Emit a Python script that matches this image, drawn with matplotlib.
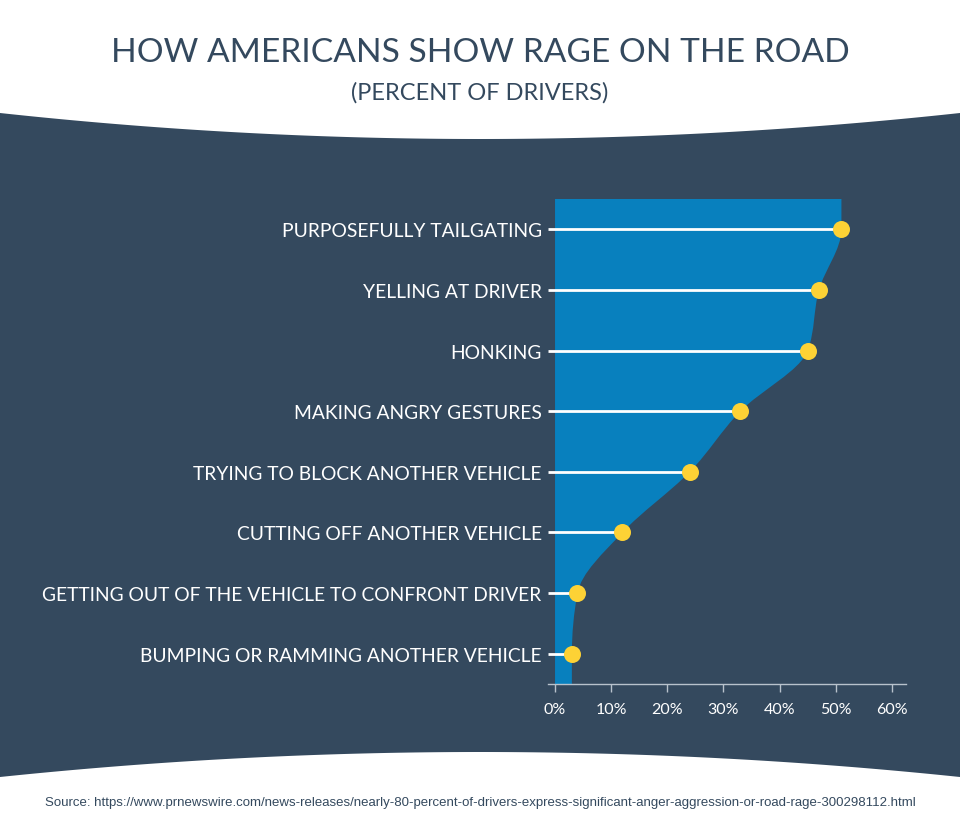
import numpy as np
import matplotlib
matplotlib.use("Agg")
import matplotlib.pyplot as plt
from matplotlib.path import Path
from matplotlib.patches import PathPatch

# ---- data ----
categories = [
    "PURPOSEFULLY TAILGATING",
    "YELLING AT DRIVER",
    "HONKING",
    "MAKING ANGRY GESTURES",
    "TRYING TO BLOCK ANOTHER VEHICLE",
    "CUTTING OFF ANOTHER VEHICLE",
    "GETTING OUT OF THE VEHICLE TO CONFRONT DRIVER",
    "BUMPING OR RAMMING ANOTHER VEHICLE",
]
values = [51, 47, 45, 33, 24, 12, 4, 3]
xticks = [0, 10, 20, 30, 40, 50, 60]
xticklabels = ["0%", "10%", "20%", "30%", "40%", "50%", "60%"]

title = "HOW AMERICANS SHOW RAGE ON THE ROAD"
subtitle = "(PERCENT OF DRIVERS)"
source = ("Source: https://www.prnewswire.com/news-releases/nearly-80-percent-of-drivers-"
          "express-significant-anger-aggression-or-road-rage-300298112.html")

NAVY = "#34495e"
BLUE = "#0880be"
YELLOW = "#fdd235"
FONT = "Lato"

W, H = 960, 837
fig = plt.figure(figsize=(W / 100, H / 100), dpi=100)
fig.patch.set_facecolor("white")

# ---- background band with curved edges ----
bg = fig.add_axes([0, 0, 1, 1])
bg.set_xlim(0, W)
bg.set_ylim(H, 0)
bg.axis("off")
xs = np.linspace(0, W, 400)
u = ((xs - W / 2) / (W / 2)) ** 2
top = 140 - 26 * u
bot = 753 + 25 * u
bg.fill_between(xs, top, bot, color=NAVY, lw=0)

bg.text(W / 2, 53, title, ha="center", va="center", fontsize=24.1,
        color=NAVY, family=FONT)
bg.text(W / 2, 93, subtitle, ha="center", va="center", fontsize=17,
        color=NAVY, family=FONT)
bg.text(W / 2, 803, source, ha="center", va="center", fontsize=9.55,
        color=NAVY, family="Liberation Sans")

# ---- main chart ----
L, R, T, B = 548, 906, 200, 685
ax = fig.add_axes([L / W, 1 - B / H, (R - L) / W, (B - T) / H])
ax.set_facecolor("none")
n = len(categories)
ax.set_xlim(-1.25, 62.5)
ax.set_ylim(n - 0.5, -0.5)

# smooth area (monotone cubic in category direction, like d3.curveMonotoneY)
py = [-0.5] + list(range(n)) + [n - 0.5]
pv = [values[0]] + values + [values[-1]]

def sgn(a):
    return (a > 0) - (a < 0)

m = len(py)
tang = [0.0] * m
for i in range(1, m - 1):
    h0 = py[i] - py[i - 1]
    h1 = py[i + 1] - py[i]
    s0 = (pv[i] - pv[i - 1]) / h0
    s1 = (pv[i + 1] - pv[i]) / h1
    p = (s0 * h1 + s1 * h0) / (h0 + h1)
    tang[i] = (sgn(s0) + sgn(s1)) * min(abs(s0), abs(s1), 0.5 * abs(p))
h = py[1] - py[0]
tang[0] = (3 * (pv[1] - pv[0]) / h - tang[1]) / 2
h = py[-1] - py[-2]
tang[-1] = (3 * (pv[-1] - pv[-2]) / h - tang[-2]) / 2

verts = [(0, py[0]), (pv[0], py[0])]
codes = [Path.MOVETO, Path.LINETO]
for i in range(m - 1):
    d = py[i + 1] - py[i]
    verts += [(pv[i] + tang[i] * d / 3, py[i] + d / 3),
              (pv[i + 1] - tang[i + 1] * d / 3, py[i + 1] - d / 3),
              (pv[i + 1], py[i + 1])]
    codes += [Path.CURVE4] * 3
verts += [(0, py[-1]), (0, py[0])]
codes += [Path.LINETO, Path.CLOSEPOLY]
ax.add_patch(PathPatch(Path(verts, codes), facecolor=BLUE, edgecolor="none", zorder=1))

ypos = np.arange(n)
ax.hlines(ypos, -1.25, values, color="white", lw=2, zorder=2)
ax.scatter(values, ypos, s=150, color=YELLOW, zorder=3, linewidths=0)

ax.set_yticks(ypos)
ax.set_yticklabels(categories, family=FONT, fontsize=13.9, color="white")
ax.tick_params(axis="y", length=0, pad=4.5)
ax.set_xticks(xticks)
ax.set_xticklabels(xticklabels, family=FONT, fontsize=11.5, color="white")
ax.tick_params(axis="x", length=6, width=1, color="#b8c2cc", pad=7)
for s in ["top", "right", "left"]:
    ax.spines[s].set_visible(False)
ax.spines["bottom"].set_color("#b8c2cc")
ax.spines["bottom"].set_linewidth(1)

fig.savefig("out.png", dpi=100, facecolor="white")
